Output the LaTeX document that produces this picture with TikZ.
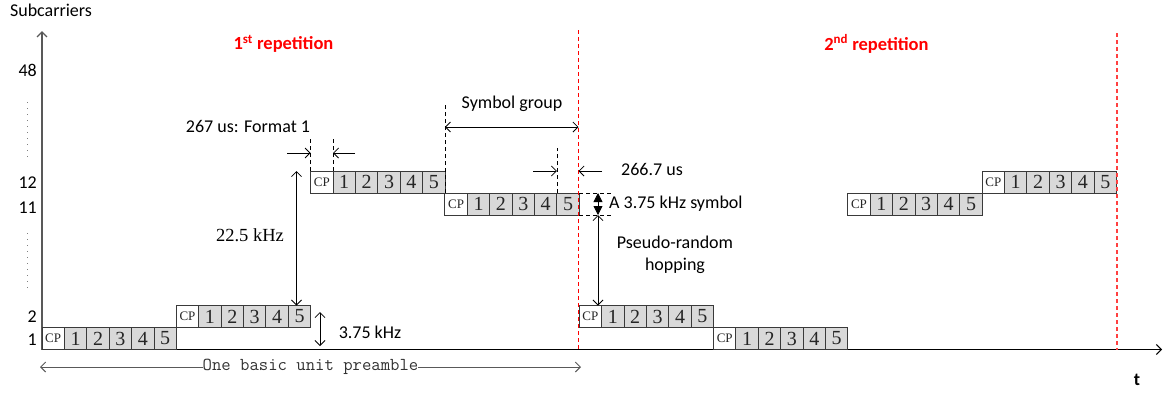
\documentclass[tikz,border=0pt]{standalone}
\usepackage{fontspec}
\usetikzlibrary{arrows.meta,calc}
\newfontfamily\calfont{Carlito}
\newfontfamily\serfont{Liberation Serif}
\definecolor{cellgray}{HTML}{D9D9D9}
\definecolor{edge}{HTML}{3A3A3A}
\definecolor{axisgray}{HTML}{595959}
\definecolor{repred}{HTML}{FF0000}
\newcommand{\symgrp}[3]{%
  \node[cpcell, anchor=north west] (#1-0) at (#2,#3) {CP};
  \foreach \i [remember=\i as \j (initially 0)] in {1,...,5} {
    \node[datacell, anchor=west] (#1-\i) at (#1-\j.east) {\i};
  }%
}
\begin{document}
\begin{tikzpicture}[x=1pt,y=-1pt,
  >={Straight Barb[length=5pt,width=10pt]},
  cell/.style={draw=edge, line width=0.9pt, minimum width=22.4pt, minimum height=22pt,
    inner sep=0pt, outer sep=0pt, font=\serfont\fontsize{20}{20}\selectfont, text=black!85},
  cpcell/.style={cell, fill=white, font=\serfont\fontsize{13}{13}\selectfont},
  datacell/.style={cell, fill=cellgray},
  lab/.style={font=\calfont\fontsize{18}{18}\selectfont, inner sep=0pt, text=black},
  serlab/.style={font=\serfont\fontsize{18.5}{18.5}\selectfont, inner sep=0pt, text=black},
  replab/.style={font=\calfont\bfseries\fontsize{18.5}{18.5}\selectfont, inner sep=0pt, text=repred},
  tick/.style={font=\calfont\fontsize{18}{18}\selectfont, inner sep=0pt, anchor=east},
  reddash/.style={draw=repred, line width=1.1pt, dash pattern=on 4pt off 3pt},
  blackdash/.style={draw=black, line width=0.8pt, dash pattern=on 4pt off 3pt},
  marker/.style={draw=black, line width=0.8pt},
  vdots/.style={draw=gray, line width=1pt, dash pattern=on 1pt off 5pt}
]
\path[use as bounding box] (0,0) rectangle (1168,392);

% axes
\coordinate (O) at (42,349.5);
\coordinate (ytop) at (42,31);
\coordinate (xend) at (1162,349.5);
\draw[axisgray, line width=1.3pt, ->] (O) -- (ytop);
\draw[black, line width=1pt, ->] (O) -- (xend);
\node[lab] (sub) at (51,10) {Subcarriers};
\node[font=\calfont\bfseries\fontsize{18}{18}\selectfont, inner sep=0pt] (tlab) at (1137,380) {t};

% tick labels
\node[tick] (t48) at (37,70.5) {48};
\node[tick] (t12) at (37,182.5) {12};
\node[tick] (t11) at (37,207.5) {11};
\node[tick] (t2) at (37,317) {2};
\node[tick] (t1) at (37,339.5) {1};
\coordinate (d1a) at (27,102); \coordinate (d1b) at (27,158);
\coordinate (d2a) at (27,233); \coordinate (d2b) at (27,288);
\draw[vdots] (d1a) -- (d1b);
\draw[vdots] (d2a) -- (d2b);

% red repetition boundaries
\coordinate (r1t) at (578.5,30); \coordinate (r1b) at (578.5,349.5);
\coordinate (r2t) at (1117,33); \coordinate (r2b) at (1117,349.5);
\node[replab] (rep1) at (283.5,44) {1\textsuperscript{st} repetition};
\node[replab] (rep2) at (876.5,44) {2\textsuperscript{nd} repetition};

% symbol groups
\symgrp{a}{42}{327.5}
\symgrp{b}{176.3}{305.5}
\symgrp{c}{310.6}{171}
\symgrp{d}{444.9}{193}
\symgrp{e}{579.2}{305.5}
\symgrp{f}{713.5}{327.5}
\symgrp{g}{847.8}{193}
\symgrp{h}{982.1}{171}

\draw[reddash] (r1t) -- (r1b);
\draw[reddash, draw=repred!75] (r2t) -- (r2b);

% CP length (Format 1)
\node[lab] (fmt) at (248,126) {267 us: Format 1};
\draw[blackdash] (c-0.north west) -- ++(0,-34);
\draw[blackdash] (c-0.north east) -- ++(0,-34);
\coordinate (f1a) at (287,153);
\coordinate (f1b) at (355,153);
\draw[marker, ->] (f1a) -- (c-0.north west |- f1a);
\draw[marker, ->] (f1b) -- (c-0.north east |- f1b);

% 22.5 kHz hop
\coordinate (k1) at ($(b-5.north)+(-3,0)$);
\coordinate (k2) at (k1 |- c-0.north);
\draw[marker, <->] (k2) -- (k1);
\node[serlab] (khz) at (250,235) {22.5 kHz};

% 3.75 kHz spacing
\coordinate (s1) at (320,312);
\coordinate (s2) at (320,346);
\draw[marker, <->] (s1) -- (s2);
\node[lab] (skhz) at (370,332) {3.75 kHz};

% symbol group
\draw[blackdash] (d-0.north west) -- ++(0,-90);
\coordinate (sg1) at (d-0.north west |- 0,127);
\coordinate (sg2) at (r1t |- 0,127);
\draw[marker, <->] (sg1) -- (sg2);
\node[lab] (sgl) at (512,104) {Symbol group};

% 266.7 us
\draw[blackdash] (d-5.north west) -- ++(0,-45);
\coordinate (u1) at (533,171);
\coordinate (u2) at (602,171);
\draw[marker, ->] (u1) -- (d-5.north west |- u1);
\draw[marker, ->] (u2) -- (r1t |- u2);
\node[lab] (usl) at (652,169) {266.7 us};

% 3.75 kHz symbol height
\draw[blackdash] (d-5.north east) -- ++(32,0);
\draw[blackdash] (d-5.south east) -- ++(32,0);
\coordinate (h1) at (598,193);
\coordinate (h2) at (598,215);
\coordinate (h3) at (598,305.5);
\draw[marker, {Triangle[length=9pt,width=9pt]}-{Triangle[length=9pt,width=9pt]}] (h1) -- (h2);
\draw[marker, <->] (h2) -- (h3);
\node[lab, anchor=west] (sym) at (609,204) {A 3.75 kHz symbol};
\node[lab, align=center, font=\calfont\fontsize{18}{22}\selectfont] (hop) at (675,255) {Pseudo-random\\hopping};

% one basic unit preamble
\node[font=\ttfamily\fontsize{18.2}{18}\selectfont, inner sep=0pt, text=black!80] (pre) at (310.5,367) {One basic unit preamble};
\coordinate (p1) at (40,367);
\coordinate (p2) at (581,367);
\draw[axisgray, line width=1pt, ->] (pre.west) -- (p1);
\draw[axisgray, line width=1pt, ->] (pre.east) -- (p2);
\end{tikzpicture}
\end{document}
